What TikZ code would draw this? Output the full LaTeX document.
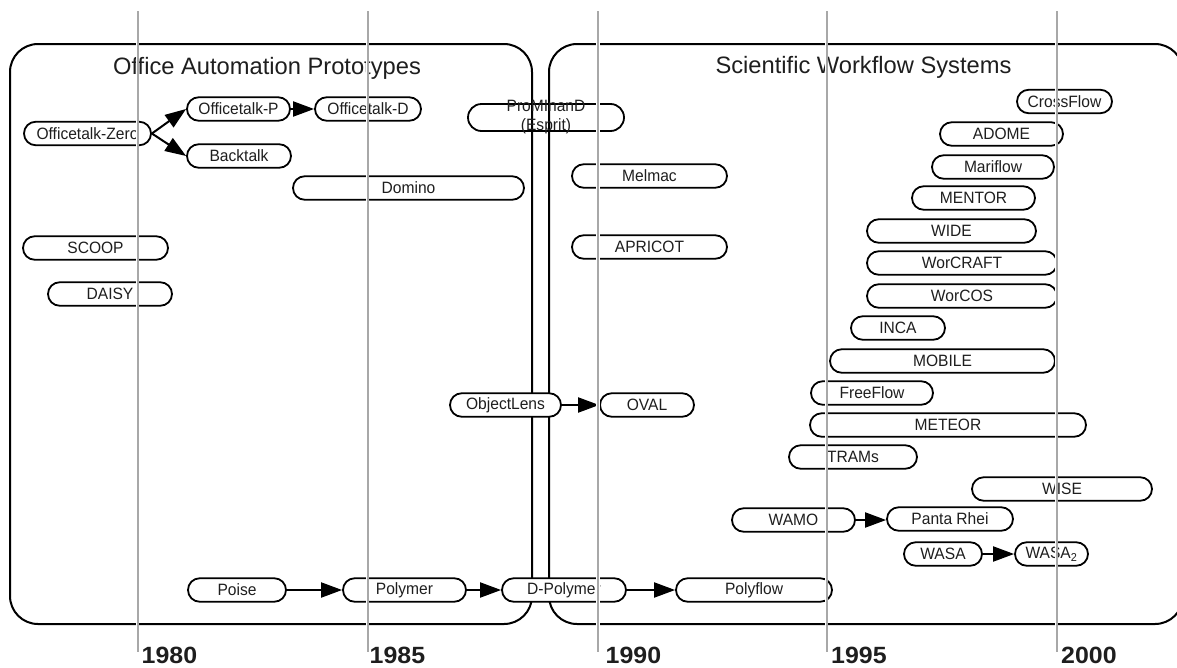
\documentclass[tikz,border=0pt]{standalone}
\usepackage{fontspec}
\setmainfont{Liberation Sans}
\newfontfamily\sysfont[FakeStretch=0.95]{Liberation Sans}
\newfontfamily\yrfont[FakeStretch=1.06]{Liberation Sans}
\usetikzlibrary{arrows.meta}
\definecolor{gridgray}{RGB}{168,168,168}
\definecolor{ink}{RGB}{30,30,30}
\begin{document}
\begin{tikzpicture}[x=1pt,y=-1pt,
  sys/.style={draw=black, line width=1.8pt, fill=white, rounded corners=11.75pt,
    minimum height=23.5pt, inner sep=0pt, font=\sysfont\fontsize{16.4}{19}\selectfont, text=ink},
  cat/.style={draw=black, line width=2pt, rounded corners=28pt},
  arr/.style={line width=2pt, -{Triangle[length=21pt,width=15pt]}},
  ttl/.style={font=\fontsize{23.7}{28}\selectfont, text=ink, anchor=base},
  yr/.style={font=\yrfont\bfseries\fontsize{23.5}{28}\selectfont, text=ink, anchor=base west, inner sep=0pt},
  gridline/.style={draw=gridgray, line width=2pt},
  halo/.style={draw=white, line width=3.6pt}
]
\useasboundingbox (0,0) rectangle (1177,667);

% ProMInanD box (behind the category boxes)
\node[sys, fill=none, minimum width=156pt, minimum height=27pt, rounded corners=13.5pt] (prom) at (546,117.5) {};

% category boxes
\draw[cat] (10,44) rectangle (532,624);
\draw[cat] (549,44) rectangle (1183,624);

% systems
\node[sys, minimum width=127pt] (zero) at (87.5,133.5) {Officetalk-Zero};
\node[sys, minimum width=103pt] (otp) at (238.5,109) {Officetalk-P};
\node[sys, minimum width=106pt] (otd) at (368,109) {Officetalk-D};
\node[sys, minimum width=104pt] (back) at (239,156) {Backtalk};
\node[sys, minimum width=231pt] (domino) at (408.5,188) {Domino};
\node[sys, minimum width=155pt] (melmac) at (649.5,176) {Melmac};
\node[sys, minimum width=155pt] (apricot) at (649.5,247) {APRICOT};
\node[sys, minimum width=145pt] (scoop) at (95.5,248) {SCOOP};
\node[sys, minimum width=124pt] (daisy) at (110,294) {DAISY};
\node[sys, minimum width=111pt] (objlens) at (505.5,405) {ObjectLens};
\node[sys, minimum width=94pt] (oval) at (647,405) {OVAL};
\node[sys, minimum width=98pt] (poise) at (237,590) {Poise};
\node[sys, minimum width=123pt] (polymer) at (404.5,590) {Polymer};
\node[sys, minimum width=124pt] (dpoly) at (564,590) {D-Polymer};
\node[sys, minimum width=156pt] (polyflow) at (754,590) {Polyflow};
\node[sys, minimum width=95pt] (crossflow) at (1064.5,101.5) {CrossFlow};
\node[sys, minimum width=123pt] (adome) at (1001.5,134) {ADOME};
\node[sys, minimum width=122pt] (mariflow) at (993,167) {Mariflow};
\node[sys, minimum width=123pt] (mentor) at (973.5,198) {MENTOR};
\node[sys, minimum width=169pt] (wide) at (951.5,231) {WIDE};
\node[sys, minimum width=190pt] (worcraft) at (962,263) {WorCRAFT};
\node[sys, minimum width=190pt] (worcos) at (962,296) {WorCOS};
\node[sys, minimum width=94pt] (inca) at (898,328) {INCA};
\node[sys, minimum width=225pt] (mobile) at (942.5,361) {MOBILE};
\node[sys, minimum width=122pt] (freeflow) at (872,393) {FreeFlow};
\node[sys, minimum width=276pt] (meteor) at (948,425) {METEOR};
\node[sys, minimum width=128pt] (trams) at (853,457) {TRAMs};
\node[sys, minimum width=180pt] (wise) at (1062,489) {WISE};
\node[sys, minimum width=123pt] (wamo) at (793.5,520) {WAMO};
\node[sys, minimum width=126pt] (panta) at (950,519) {Panta Rhei};
\node[sys, minimum width=78pt] (wasa) at (943,554) {WASA};
\node[sys, minimum width=73pt] (wasa2) at (1051.5,554) {WASA\textsubscript{2}};

% connectors
\draw[arr] (zero.east) -- (otp.west);
\draw[arr] (zero.east) -- (back.west);
\draw[arr] (otp.east) -- (otd.west);
\draw[arr] (objlens.east) -- (oval.west);
\draw[arr] (poise.east) -- (polymer.west);
\draw[arr] (polymer.east) -- (dpoly.west);
\draw[arr] (dpoly.east) -- (polyflow.west);
\draw[arr] (wamo.east) -- (panta.west |- wamo.east);
\draw[arr] (wasa.east) -- (wasa2.west);

% titles
\node[ttl] (ttlOffice) at (267,74) {Office Automation Prototypes};
\node[ttl] (ttlSci) at (863.5,73) {Scientific Workflow Systems};
\node[align=center, inner sep=0pt, font=\sysfont\fontsize{16.4}{19}\selectfont, text=ink] (promtext) at (546,117) {ProMInanD\\(Esprit)};

% year lines
\foreach \x/\lx/\yy in {137.5/141.5/1980, 367.5/369.5/1985, 598/605.5/1990, 826.5/831/1995, 1056.5/1061/2000}{
  \draw[halo] (\x,11) -- (\x,652);
  \draw[gridline] (\x,11) -- (\x,652);
  \node[yr] at (\lx,663) {\yy};
}
\end{tikzpicture}
\end{document}
